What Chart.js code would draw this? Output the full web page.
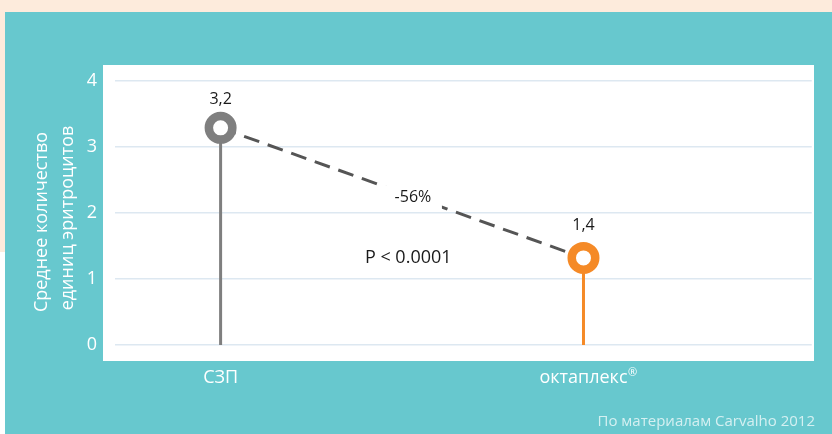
<!DOCTYPE html>
<html>
<head>
<meta charset="utf-8">
<script src="https://cdn.jsdelivr.net/npm/chart.js@4/dist/chart.umd.min.js"></script>
<style>
  html, body { margin: 0; padding: 0; background: #ffffff; }
  #wrap { width: 832px; height: 434px; position: relative; }
</style>
</head>
<body>
<div id="wrap"><canvas id="c" width="832" height="434"></canvas></div>
<script>
// ---- data ----
const categories = ['СЗП', 'октаплекс®'];
const values = [3.29, 1.32];            // plotted mean values as drawn
const valueLabels = ['3,2', '1,4'];     // labels printed above the points
const yTicks = [0, 1, 2, 3, 4];
const yTitleLines = ['Среднее количество', 'единиц эритроцитов'];
const changeLabel = '-56%';
const pLabel = 'P < 0.0001';
const sourceNote = 'По материалам Carvalho 2012';

const colors = ['#7f7f7f', '#f58a27'];
const FONT = "'Open Sans', 'Noto Sans', sans-serif";

const catX = categories.map((_, i) => i + 1);

const bgPlugin = {
  id: 'bg',
  beforeDraw(chart) {
    const ctx = chart.ctx;
    ctx.save();
    ctx.fillStyle = '#ffffff';
    ctx.fillRect(0, 0, 832, 434);
    ctx.fillStyle = '#fdebdc';
    ctx.fillRect(0, 0, 832, 12);
    ctx.fillRect(0, 0, 5, 252);
    ctx.fillStyle = '#67c8ce';
    ctx.fillRect(5, 12, 827, 422);
    ctx.fillStyle = '#ffffff';
    ctx.fillRect(103, 65, 711, 296);
    ctx.restore();
  }
};

const textPlugin = {
  id: 'texts',
  afterDatasetsDraw(chart) {
    // gap in the dashed line behind the change label
    const ctx = chart.ctx;
    const xs = chart.scales.x, ys = chart.scales.y;
    const cx = xs.getPixelForValue(1.53), cy = ys.getPixelForValue(2.24);
    ctx.save();
    ctx.fillStyle = '#ffffff';
    ctx.fillRect(cx - 29, cy - 12, 58, 24);
    ctx.restore();
  },
  afterDraw(chart) {
    const ctx = chart.ctx;
    const xs = chart.scales.x, ys = chart.scales.y;
    ctx.save();
    // value labels
    ctx.fillStyle = '#1a1a1a';
    ctx.font = '16px ' + FONT;
    ctx.textAlign = 'center';
    ctx.textBaseline = 'middle';
    const offs = [28, 32];
    values.forEach((v, i) => {
      const px = xs.getPixelForValue(catX[i]);
      const py = ys.getPixelForValue(v);
      ctx.fillText(valueLabels[i], px, py - offs[i]);
    });
    // change label
    ctx.fillText(changeLabel, xs.getPixelForValue(1.53), ys.getPixelForValue(2.24));
    // p-value
    ctx.font = '18px ' + FONT;
    ctx.fillText(pLabel, xs.getPixelForValue(1.517), ys.getPixelForValue(1.32));
    // y title
    ctx.fillStyle = '#ffffff';
    ctx.font = '18px ' + FONT;
    const tx = [42, 68], ty = [222, 218];
    yTitleLines.forEach((t, i) => {
      ctx.save();
      ctx.translate(tx[i], ty[i]);
      ctx.rotate(-Math.PI / 2);
      ctx.fillText(t, 0, 0);
      ctx.restore();
    });
    // superscript ® on category labels
    ctx.font = '18px ' + FONT;
    categories.forEach((c, i) => {
      if (c.indexOf('®') >= 0) {
        const base = c.replace('®', '');
        const w = ctx.measureText(base).width;
        const px = xs.getPixelForValue(catX[i]);
        ctx.save();
        ctx.font = '11px ' + FONT;
        ctx.textAlign = 'left';
        ctx.textBaseline = 'middle';
        ctx.fillText('®', px + w / 2 + 0.5, 373);
        ctx.restore();
      }
    });
    // source note
    ctx.fillStyle = 'rgba(255,255,255,0.72)';
    ctx.font = '15px ' + FONT;
    ctx.textAlign = 'right';
    ctx.fillText(sourceNote, 815, 422);
    ctx.restore();
  }
};

const datasets = [
  {
    type: 'scatter',
    order: 0,
    data: values.map((v, i) => ({ x: catX[i], y: v })),
    pointRadius: 11.75,
    pointBorderWidth: 8.5,
    pointBackgroundColor: '#ffffff',
    pointBorderColor: colors,
    showLine: false
  },
  {
    type: 'line',
    order: 1,
    data: values.map((v, i) => ({ x: catX[i], y: v })),
    borderColor: '#555555',
    borderWidth: 3,
    borderDash: [16, 9],
    pointRadius: 0,
    fill: false
  }
];
values.forEach((v, i) => {
  datasets.push({
    type: 'line',
    order: 2,
    data: [{ x: catX[i], y: 0 }, { x: catX[i], y: v }],
    borderColor: colors[i],
    borderWidth: 3,
    pointRadius: 0,
    fill: false
  });
});

new Chart(document.getElementById('c'), {
  data: { datasets },
  plugins: [bgPlugin, textPlugin],
  options: {
    responsive: false,
    animation: false,
    events: [],
    layout: { padding: { top: 81, left: 0, right: 18, bottom: 0 } },
    plugins: { legend: { display: false }, tooltip: { enabled: false } },
    scales: {
      x: {
        type: 'linear',
        min: 0.709,
        max: 2.629,
        grid: { display: false },
        border: { display: false },
        afterFit(scale) { scale.height = 89; },
        afterBuildTicks(scale) { scale.ticks = catX.map(v => ({ value: v })); },
        ticks: {
          color: '#ffffff',
          font: { family: FONT, size: 18 },
          padding: 14,
          autoSkip: false,
          maxRotation: 0,
          callback: (v) => (categories[catX.indexOf(v)] || '').replace('®', '')
        }
      },
      y: {
        type: 'linear',
        min: 0,
        max: 4,
        afterFit(scale) { scale.width = 115; },
        afterBuildTicks(scale) { scale.ticks = yTicks.map(v => ({ value: v })); },
        grid: { color: '#dde8f1', lineWidth: 1.5, drawTicks: false },
        border: { display: false },
        ticks: {
          color: '#ffffff',
          font: { family: FONT, size: 18 },
          padding: 18
        }
      }
    }
  }
});
</script>
</body>
</html>
